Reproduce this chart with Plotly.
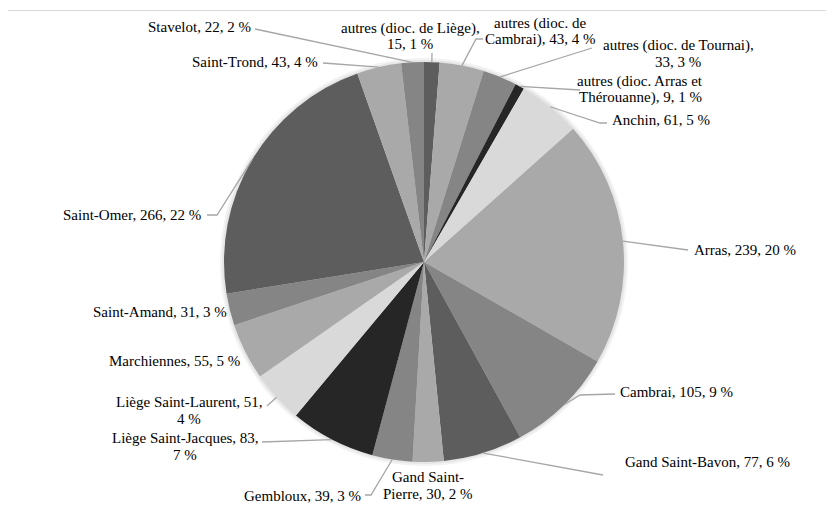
import math
import plotly.graph_objects as go

# ---------------- data ----------------
categories = [
    "autres (dioc. de Liège)", "autres (dioc. de Cambrai)", "autres (dioc. de Tournai)",
    "autres (dioc. Arras et Thérouanne)", "Anchin", "Arras", "Cambrai", "Gand Saint-Bavon",
    "Gand Saint-Pierre", "Gembloux", "Liège Saint-Jacques", "Liège Saint-Laurent",
    "Marchiennes", "Saint-Amand", "Saint-Omer", "Saint-Trond", "Stavelot",
]
values = [15, 43, 33, 9, 61, 239, 105, 77, 30, 39, 83, 51, 55, 31, 266, 43, 22]
percents = [1, 4, 3, 1, 5, 20, 9, 6, 2, 3, 7, 4, 5, 3, 22, 4, 2]

# ---------------- styling / layout ----------------
# page body has an 8px margin: figure is drawn at (8, 8) in the window
OFF = 8
W, H = 826, 500
CX, CY, R = 424, 262, 200          # in window pixels
FONT = "Liberation Serif"
LINE_GAP = 16.5

VL, LI, ME, DA, BK = "#d9d9d9", "#a9a9a9", "#858585", "#5d5d5d", "#262626"
colors = [DA, LI, ME, BK, VL, LI, ME, DA, LI, ME, BK, VL, LI, ME, DA, LI, ME]

# per label: first-line length (0 = single line), x, y of first line (px), xanchor, leader points (px)
label_layout = [
    (24, 410, 28, "center", [(432, 53)]),
    (16, 540, 23, "center", [(476, 39), (483, 39)]),
    (26, 678, 46, "center", [(592, 48)]),
    (22, 640, 81, "center", [(580, 90)]),
    (0, 610, 120, "left", [(600, 123), (607, 123)]),
    (0, 692, 250, "left", [(688, 250)]),
    (0, 618, 392, "left", [(580, 395), (615, 394)]),
    (0, 623, 462, "left", [(603, 475)]),
    (11, 428, 477, "center", []),
    (0, 363, 496, "right", [(371, 495), (365, 495)]),
    (24, 185, 438, "center", [(262, 442)]),
    (24, 189, 402, "center", [(267, 406)]),
    (0, 174, 361, "center", []),
    (0, 160, 312, "center", []),
    (0, 203, 215, "right", [(217, 215), (207, 215)]),
    (0, 320, 62, "right", [(323, 63)]),
    (0, 253, 27, "right", [(255, 29)]),
]


def px(x):
    return (x - OFF) / W


def py(y):
    return 1 - (y - OFF) / H


fig = go.Figure()
fig.add_trace(go.Pie(
    labels=categories, values=values, sort=False, direction="clockwise", rotation=0,
    marker=dict(colors=colors, line=dict(width=0)), textinfo="none",
    hoverinfo="label+value+percent",
    domain=dict(x=[px(CX - R), px(CX + R)], y=[py(CY + R), py(CY - R)]),
    showlegend=False,
))

total = sum(values)
shapes = []
annotations = []
# soft shadow around the pie
for rr, col in [(204, "#f3f3f3"), (202, "#e6e6e6")]:
    shapes.append(dict(type="circle", xref="paper", yref="paper", layer="below",
                       x0=px(CX - rr), x1=px(CX + rr), y0=py(CY + rr), y1=py(CY - rr),
                       fillcolor=col, line=dict(width=0)))
# chart frame
shapes.append(dict(type="rect", xref="paper", yref="paper", x0=px(4.5), x1=px(826.5),
                   y0=py(540), y1=py(10.5), line=dict(color="#d9d9d9", width=1)))

cum = 0
for cat, v, p, (brk, lx, ly, xa, pts) in zip(categories, values, percents, label_layout):
    mid = (cum + v / 2) / total * 2 * math.pi
    cum += v
    ax_, ay_ = CX + R * math.sin(mid), CY - R * math.cos(mid)
    text = f"{cat}, {v}, {p} %"
    lines = [text[:brk], text[brk:].lstrip()] if brk else [text]
    for i, ln in enumerate(lines):
        annotations.append(dict(x=px(lx), y=py(ly + i * LINE_GAP), xref="paper", yref="paper",
                                text=ln, showarrow=False, xanchor=xa, yanchor="middle",
                                font=dict(family=FONT, size=15, color="#000000")))
    if pts:
        path_pts = [(ax_, ay_)] + pts
        d = "M " + " L ".join(f"{px(x):.5f},{py(y):.5f}" for x, y in path_pts)
        shapes.append(dict(type="path", xref="paper", yref="paper", path=d,
                           line=dict(color="#a6a6a6", width=1.3)))

fig.update_layout(
    width=W, height=H, margin=dict(l=0, r=0, t=0, b=0),
    paper_bgcolor="white", plot_bgcolor="white",
    shapes=shapes, annotations=annotations,
)

fig.write_html("out.html")
